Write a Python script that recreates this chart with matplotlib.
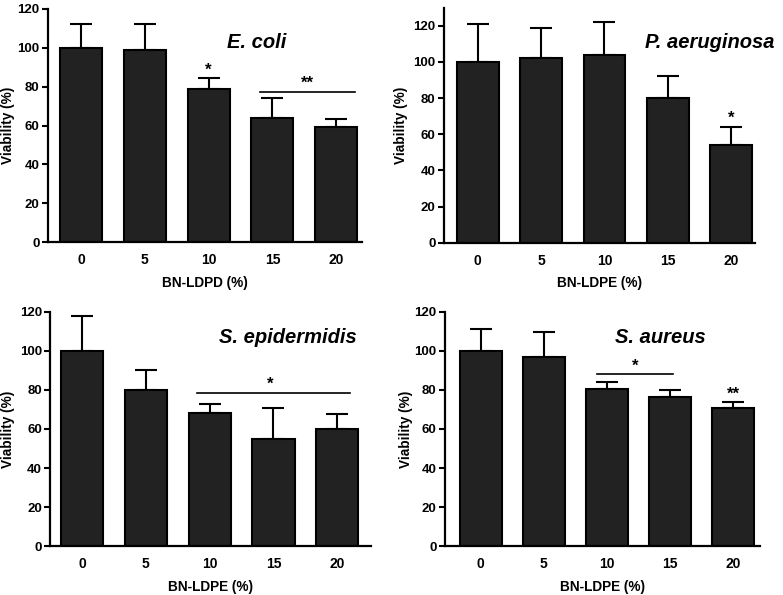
import numpy as np
import matplotlib.pyplot as plt

plt.rcParams['font.family'] = ['Liberation Sans', 'DejaVu Sans']
plt.rcParams['font.weight'] = 'bold'

##data
conc = ['0', '5', '10', '15', '20']

ecoli = [100, 99, 79, 64, 59]
ecoli_err = [12, 13, 5.5, 10, 4.2]

paer = [100, 102, 104, 80, 54]
paer_err = [21, 17, 18, 12.5, 10]

sepi = [100, 80, 68, 55, 60]
sepi_err = [18, 10, 5, 15.5, 7.5]

saur = [100, 97, 80.5, 76.5, 71]
saur_err = [11, 12.8, 3.8, 3.4, 3]

titles = ['E. coli', 'P. aeruginosa', 'S. epidermidis', 'S. aureus']
xlabels = ['BN-LDPD (%)', 'BN-LDPE (%)', 'BN-LDPE (%)', 'BN-LDPE (%)']
ymax = [120, 130, 120, 120]

fig = plt.figure(figsize=(7.83, 5.95), dpi=100)
positions = [[0.061, 0.593, 0.401, 0.392],
             [0.567, 0.592, 0.397, 0.395],
             [0.064, 0.082, 0.410, 0.394],
             [0.568, 0.082, 0.403, 0.394]]
xlims = [(-0.52, 4.4), (-0.53, 4.37), (-0.5, 4.53), (-0.57, 4.43)]
title_pos = [(0.665, 0.854), (0.855, 0.85), (0.74, 0.89), (0.684, 0.89)]
ylabel_x = [-0.105, -0.116, -0.109, -0.10]

all_vals = [ecoli, paer, sepi, saur]
all_errs = [ecoli_err, paer_err, sepi_err, saur_err]

axes = []
for i in range(4):
    ax = fig.add_axes(positions[i])
    x = np.arange(len(conc))
    ax.bar(x, all_vals[i], width=0.66, color='#222222', edgecolor='black', linewidth=1.5, zorder=2)
    ax.errorbar(x, all_vals[i], yerr=[np.zeros(5), all_errs[i]], fmt='none', ecolor='black',
                elinewidth=1.5, capsize=8, capthick=1.5, zorder=1)
    ax.set_xlim(*xlims[i])
    ax.set_ylim(0, ymax[i])
    ax.set_yticks(np.arange(0, 121, 20))
    ax.set_xticks(x)
    ax.set_xticklabels(conc)
    ax.spines['top'].set_visible(False)
    ax.spines['right'].set_visible(False)
    ax.spines['left'].set_linewidth(1.6)
    ax.spines['bottom'].set_linewidth(1.6)
    ax.tick_params(axis='y', length=4, width=1.5, labelsize=9.5, pad=2)
    ax.tick_params(axis='x', length=0, labelsize=10, pad=8)
    ax.set_ylabel('Viability (%)', fontsize=9.8, fontweight='bold')
    ax.yaxis.set_label_coords(ylabel_x[i], 0.5)
    ax.set_xlabel(xlabels[i], fontsize=9.8, fontweight='bold', labelpad=6)
    ax.text(title_pos[i][0], title_pos[i][1], titles[i], transform=ax.transAxes,
            fontsize=14.5, fontweight='bold', fontstyle='italic', ha='center', va='center')
    axes.append(ax)

##significance marks
ax = axes[0]
ax.text(2, 84.5, '*', ha='center', va='bottom', fontsize=12, fontweight='bold')
ax.plot([2.8, 4.3], [77.4, 77.4], color='black', lw=1.2)
ax.text(3.55, 78, '**', ha='center', va='bottom', fontsize=12, fontweight='bold')

ax = axes[1]
ax.text(4, 64.5, '*', ha='center', va='bottom', fontsize=12, fontweight='bold')

ax = axes[2]
ax.plot([1.8, 4.2], [78.5, 78.5], color='black', lw=1.2)
ax.text(2.95, 79, '*', ha='center', va='bottom', fontsize=12, fontweight='bold')

ax = axes[3]
ax.plot([1.85, 3.05], [88, 88], color='black', lw=1.2)
ax.text(2.45, 88.5, '*', ha='center', va='bottom', fontsize=12, fontweight='bold')
ax.text(4, 74, '**', ha='center', va='bottom', fontsize=12, fontweight='bold')

plt.savefig('out.png', dpi=100)
